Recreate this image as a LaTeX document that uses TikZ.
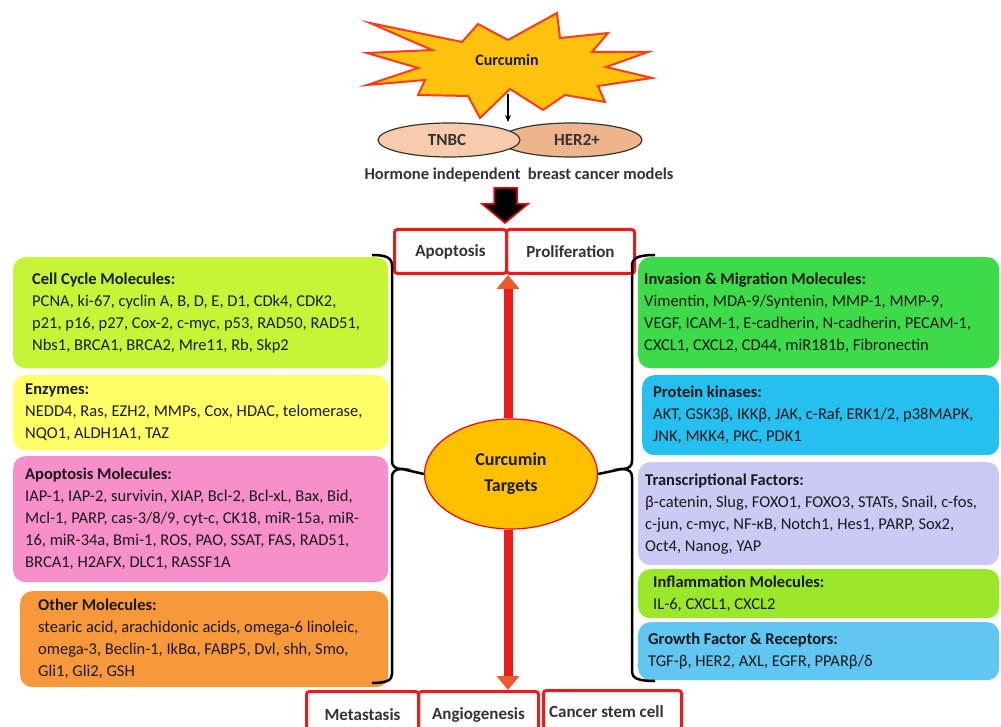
\documentclass[tikz,border=0pt]{standalone}
\usepackage{fontspec}
\setmainfont{Carlito}
\usetikzlibrary{arrows.meta,shapes.geometric}
\definecolor{cellc}{HTML}{C6F538}
\definecolor{enzc}{HTML}{FFFF66}
\definecolor{apoc}{HTML}{F78FCB}
\definecolor{othc}{HTML}{F7993A}
\definecolor{invc}{HTML}{3DDB4A}
\definecolor{kinc}{HTML}{25BFF0}
\definecolor{trac}{HTML}{CACAF5}
\definecolor{infc}{HTML}{9BE82A}
\definecolor{groc}{HTML}{62C6F2}
\definecolor{starfill}{HTML}{FFC20E}
\definecolor{starline}{HTML}{FF3B1E}
\definecolor{tgtfill}{HTML}{FFC000}
\definecolor{boxred}{HTML}{EE1A1A}
\definecolor{headc}{HTML}{EB5A28}
\definecolor{tnbcc}{HTML}{F8CBAD}
\definecolor{herc}{HTML}{EEB48C}
\definecolor{txtc}{HTML}{1A1A1A}
\definecolor{darkg}{HTML}{333333}
\begin{document}
\begin{tikzpicture}[x=1pt,y=-1pt,
  box/.style={rounded corners=12pt, anchor=north west, inner sep=0pt, draw=none},
  txt/.style={align=left, anchor=west, inner sep=0pt, font=\fontsize{16.5}{22}\selectfont, text=txtc},
  redbox/.style={draw=boxred, line width=3pt, rounded corners=3pt, anchor=north west, inner sep=0pt,
    font=\bfseries\fontsize{17}{20}\selectfont, text=darkg},
  bracket/.style={line width=2.5pt, black},
  redarrow/.style={line width=9pt, boxred, -{Triangle[length=14pt,width=22pt,color=headc]}},
  oval/.style={ellipse, draw=darkg, line width=1.2pt, inner sep=0pt, font=\bfseries\fontsize{17}{20}\selectfont, text=darkg}
]
\useasboundingbox (0,0) rectangle (1001,727);
\clip (0,0) rectangle (1001,727);
\fill[white] (0,0) rectangle (1001,727);

% star
\filldraw[fill=starfill, draw=starline, line width=2pt, line join=miter]
 (370,23) -- (462,42) -- (478,24) -- (508,40) -- (557,13) -- (560,38) -- (608,33) -- (592,52)
 -- (648,52) -- (606,67) -- (652,78) -- (598,86) -- (605,102) -- (565,95) -- (543,110)
 -- (510,89) -- (480,118) -- (468,96) -- (418,95) -- (425,80) -- (367,85) -- (418,68)
 -- (367,53) -- (432,50) -- cycle;
\node[font=\bfseries\fontsize{16}{19}\selectfont, text=txtc] (curcumin) at (507,60) {Curcumin};

% ellipses
\node[oval, fill=herc, minimum width=142pt, minimum height=34pt] (her) at (571,140) {\hspace*{12pt}HER2+};
\node[oval, fill=tnbcc, minimum width=142pt, minimum height=34pt] (tnbc) at (449,140) {\hspace*{-4pt}TNBC};
\coordinate (sa) at (508,94);
\coordinate (sb) at (508,122);
\draw[line width=1.5pt, -{Stealth[length=7pt,width=6pt]}] (sa) -- (sb);
\node[font=\bfseries\fontsize{16.5}{20}\selectfont, text=darkg] (hormone) at (519,175) {Hormone independent\ \ breast cancer models};

% big black arrow
\filldraw[fill=black, draw=red, line width=1.5pt] (494,188) -- (517,188) -- (517,204) -- (528,204)
 -- (505,223) -- (482,204) -- (494,204) -- cycle;

% top red boxes
\node[redbox, minimum width=112pt, minimum height=44pt] (apop) at (393,228) {Apoptosis};
\node[redbox, minimum width=128pt, minimum height=44pt] (prolif) at (505,228) {Proliferation};

% bottom red boxes
\node[redbox, minimum width=112pt, minimum height=46pt] (meta) at (305,690) {Metastasis};
\node[redbox, minimum width=120pt, minimum height=46pt] (angio) at (417,690) {Angiogenesis};
\node[redbox, minimum width=138pt, minimum height=42pt] (csc) at (542,689) {Cancer stem cell\hspace*{12pt}};

% left boxes
\node[box, fill=cellc, minimum width=375pt, minimum height=111pt] (cellbox) at (13,257) {};
\node[txt, xshift=19pt] (celltxt) at (cellbox.west) {\textbf{Cell Cycle Molecules:}\\
PCNA, ki-67, cyclin A, B, D, E, D1, CDk4,\ CDK2,\\
p21, p16, p27, Cox-2,\ c-myc, p53, RAD50, RAD51,\\
Nbs1, BRCA1, BRCA2, Mre11,\ Rb, Skp2};

\node[box, fill=enzc, minimum width=375pt, minimum height=75pt] (enzbox) at (13,375) {};
\node[txt, xshift=12pt] (enztxt) at (enzbox.west) {\textbf{Enzymes:}\\
NEDD4, Ras, EZH2, MMPs, Cox,\ HDAC, telomerase,\\
NQO1, ALDH1A1, TAZ};

\node[box, fill=apoc, minimum width=375pt, minimum height=126pt] (apobox) at (13,456) {};
\node[txt, xshift=12pt] (apotxt) at (apobox.west) {\textbf{Apoptosis Molecules:}\\
IAP-1, IAP-2, survivin, XIAP, Bcl-2, Bcl-xL, Bax, Bid,\\
Mcl-1, PARP, cas-3/8/9, cyt-c, CK18, miR-15a, miR-\\
16, miR-34a, Bmi-1, ROS, PAO, SSAT, FAS, RAD51,\\
BRCA1, H2AFX, DLC1, RASSF1A};

\node[box, fill=othc, minimum width=368pt, minimum height=96pt] (othbox) at (20,591) {};
\node[txt, xshift=18pt] (othtxt) at (othbox.west) {\textbf{Other Molecules:}\\
stearic acid, arachidonic acids, omega-6 linoleic,\\
omega-3, Beclin-1, IkBα, FABP5, Dvl, shh, Smo,\\
Gli1, Gli2, GSH};

% right boxes
\node[box, fill=invc, minimum width=361pt, minimum height=111pt] (invbox) at (638,257) {};
\node[txt, xshift=6pt] (invtxt) at (invbox.west) {\textbf{Invasion \& Migration Molecules:}\\
Vimentin, MDA-9/Syntenin, MMP-1, MMP-9,\\
VEGF, ICAM-1, E-cadherin, N-cadherin, PECAM-1,\\
CXCL1, CXCL2, CD44, miR181b, Fibronectin};

\node[box, fill=kinc, minimum width=357pt, minimum height=80pt] (kinbox) at (642,375) {};
\node[txt, xshift=11pt] (kintxt) at (kinbox.west) {\textbf{Protein kinases:}\\
AKT, GSK3β, IKKβ, JAK, c-Raf, ERK1/2, p38MAPK,\\
JNK, MKK4, PKC, PDK1};

\node[box, fill=trac, minimum width=361pt, minimum height=103pt] (trabox) at (638,462) {};
\node[txt, xshift=7pt] (tratxt) at (trabox.west) {\textbf{Transcriptional Factors:}\\
β-catenin, Slug, FOXO1, FOXO3, STATs, Snail, c-fos,\\
c-jun, c-myc, NF-κB, Notch1, Hes1, PARP, Sox2,\\
Oct4, Nanog, YAP};

\node[box, fill=infc, minimum width=361pt, minimum height=49pt] (infbox) at (638,569) {};
\node[txt, xshift=15pt] (inftxt) at (infbox.west) {\textbf{Inflammation Molecules:}\\
IL-6, CXCL1,\ CXCL2};

\node[box, fill=groc, minimum width=361pt, minimum height=58pt] (grobox) at (638,622) {};
\node[txt, xshift=10pt] (grotxt) at (grobox.west) {\textbf{Growth Factor \& Receptors:}\\
TGF-β, HER2, AXL, EGFR, PPARβ/δ};

% central ellipse
\node[ellipse, fill=tgtfill, draw=red, line width=1.2pt, minimum width=173pt, minimum height=110pt,
  inner sep=0pt, align=center, font=\bfseries\fontsize{18}{26}\selectfont, text=txtc] (tgt) at (511,474) {Curcumin\\Targets};

% brackets
\coordinate (lt) at (402,469);
\coordinate (rt) at (622,469);
\draw[bracket] (372,255) .. controls (387,255) and (392,258) .. (392,266) -- (392,461)
  .. controls (392,466) and (395,469) .. (lt) .. controls (395,469) and (392,472) .. (392,477)
  -- (392,674) .. controls (392,680) and (387,683) .. (372,683);
\draw[bracket] (655,255) .. controls (638,255) and (632,258) .. (632,266) -- (632,461)
  .. controls (632,466) and (629,469) .. (rt) .. controls (629,469) and (632,472) .. (632,477)
  -- (632,672) .. controls (632,678) and (638,681) .. (655,681);
\draw[bracket] (lt) -- (tgt.west);
\draw[bracket] (rt) -- (tgt.east);

% red arrows
\draw[redarrow] (tgt.north -| apop.south east) -- (apop.south east);
\draw[redarrow] (tgt.south -| apop.south east) -- (apop.south east |- angio.north);
\end{tikzpicture}
\end{document}
